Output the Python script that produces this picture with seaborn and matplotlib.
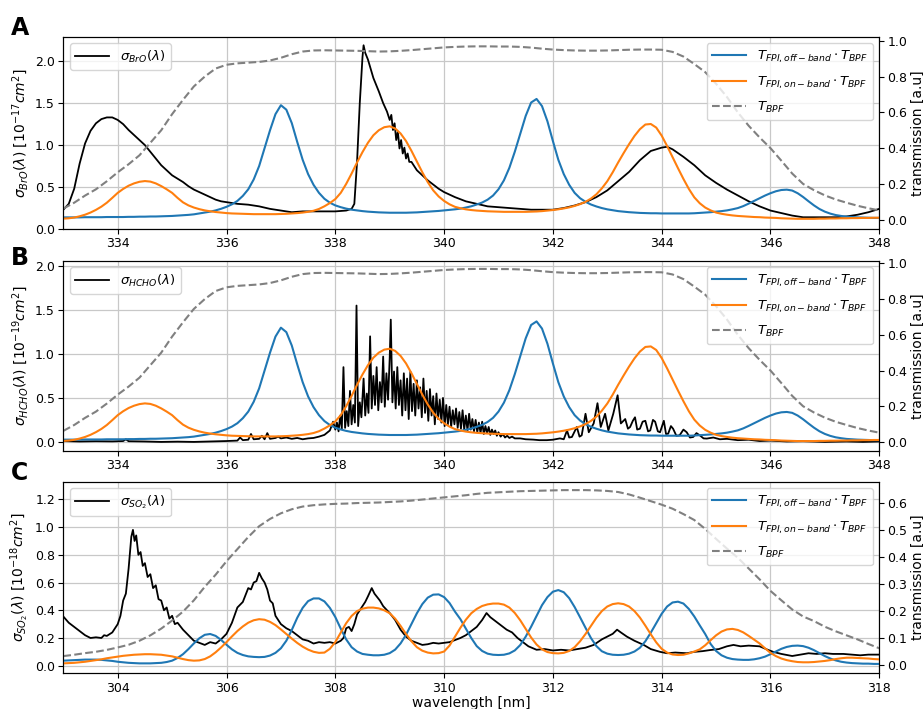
import numpy as np
import matplotlib
matplotlib.use("Agg")
import matplotlib.pyplot as plt
import seaborn as sns

# ---------------------------------------------------------------------------
# Filter transmissions, panels A and B (same filters), right axis, 333-348 nm
# ---------------------------------------------------------------------------
wl_bpf_ab = np.linspace(333.0, 348.0, 76)      # 0.2 nm sampling
wl_fpi_ab = np.linspace(333.0, 348.0, 151)     # 0.1 nm sampling

t_bpf_ab = [
    0.062, 0.095, 0.135, 0.170, 0.215, 0.265, 0.310, 0.360, 0.430, 0.500,
    0.590, 0.670, 0.745, 0.800, 0.845, 0.866, 0.874, 0.878, 0.882, 0.890,
    0.905, 0.925, 0.940, 0.946, 0.947, 0.946, 0.945, 0.944, 0.942, 0.940,
    0.941, 0.944, 0.948, 0.953, 0.958, 0.963, 0.966, 0.968, 0.969, 0.969,
    0.968, 0.968, 0.966, 0.962, 0.956, 0.951, 0.948, 0.946, 0.945, 0.945,
    0.946, 0.948, 0.950, 0.951, 0.951, 0.950, 0.938, 0.912, 0.870, 0.825,
    0.760, 0.686, 0.600, 0.525, 0.460, 0.400, 0.330, 0.258, 0.200, 0.165,
    0.136, 0.113, 0.095, 0.078, 0.064, 0.052,
]

t_off_ab = [
    0.013, 0.013, 0.013, 0.013, 0.014, 0.014, 0.014, 0.014, 0.015, 0.015,
    0.015, 0.015, 0.016, 0.016, 0.017, 0.017, 0.018, 0.018, 0.019, 0.020,
    0.021, 0.023, 0.025, 0.027, 0.030, 0.035, 0.040, 0.045, 0.052, 0.061,
    0.072, 0.086, 0.105, 0.133, 0.170, 0.225, 0.300, 0.400, 0.500, 0.590,
    0.640, 0.615, 0.540, 0.435, 0.335, 0.255, 0.195, 0.150, 0.117, 0.095,
    0.080, 0.070, 0.062, 0.056, 0.052, 0.048, 0.045, 0.043, 0.041, 0.040,
    0.039, 0.039, 0.039, 0.039, 0.040, 0.041, 0.043, 0.045, 0.047, 0.049,
    0.052, 0.055, 0.058, 0.062, 0.068, 0.075, 0.085, 0.096, 0.112, 0.135,
    0.170, 0.220, 0.290, 0.380, 0.480, 0.580, 0.655, 0.675, 0.635, 0.550,
    0.440, 0.335, 0.255, 0.195, 0.150, 0.120, 0.100, 0.085, 0.074, 0.065,
    0.058, 0.053, 0.048, 0.045, 0.042, 0.040, 0.038, 0.037, 0.036, 0.036,
    0.035, 0.035, 0.035, 0.035, 0.035, 0.035, 0.036, 0.038, 0.040, 0.042,
    0.045, 0.048, 0.052, 0.058, 0.065, 0.076, 0.090, 0.105, 0.120, 0.135,
    0.148, 0.159, 0.166, 0.168, 0.163, 0.148, 0.127, 0.103, 0.080, 0.060,
    0.045, 0.034, 0.026, 0.021, 0.017, 0.015, 0.013, 0.012, 0.011, 0.010,
    0.010,
]

t_on_ab = [
    0.006, 0.008, 0.012, 0.019, 0.028, 0.040, 0.055, 0.073, 0.095, 0.122,
    0.150, 0.172, 0.190, 0.203, 0.212, 0.216, 0.213, 0.203, 0.188, 0.170,
    0.150, 0.122, 0.097, 0.080, 0.068, 0.059, 0.052, 0.047, 0.043, 0.040,
    0.037, 0.035, 0.034, 0.033, 0.032, 0.031, 0.031, 0.031, 0.031, 0.031,
    0.032, 0.033, 0.035, 0.037, 0.040, 0.044, 0.050, 0.060, 0.075, 0.093,
    0.115, 0.150, 0.200, 0.258, 0.320, 0.378, 0.430, 0.472, 0.500, 0.517,
    0.522, 0.510, 0.482, 0.440, 0.385, 0.325, 0.265, 0.210, 0.164, 0.130,
    0.105, 0.086, 0.072, 0.064, 0.058, 0.054, 0.051, 0.049, 0.047, 0.046,
    0.045, 0.044, 0.044, 0.044, 0.044, 0.044, 0.045, 0.046, 0.048, 0.051,
    0.054, 0.058, 0.063, 0.069, 0.077, 0.087, 0.100, 0.118, 0.142, 0.175,
    0.215, 0.265, 0.320, 0.372, 0.422, 0.468, 0.506, 0.532, 0.535, 0.515,
    0.470, 0.412, 0.350, 0.288, 0.228, 0.172, 0.125, 0.092, 0.068, 0.052,
    0.040, 0.033, 0.028, 0.024, 0.021, 0.019, 0.017, 0.015, 0.014, 0.012,
    0.011, 0.010, 0.008, 0.007, 0.006, 0.005, 0.005, 0.005, 0.005, 0.006,
    0.006, 0.007, 0.007, 0.008, 0.008, 0.009, 0.009, 0.010, 0.010, 0.011,
    0.011,
]

# ---------------------------------------------------------------------------
# Filter transmissions, panel C, right axis, 303-318 nm
# ---------------------------------------------------------------------------
wl_bpf_c = np.linspace(303.0, 318.0, 76)
wl_fpi_c = np.linspace(303.0, 318.0, 151)

t_bpf_c = [
    0.033, 0.038, 0.044, 0.049, 0.056, 0.065, 0.075, 0.090, 0.110, 0.135,
    0.165, 0.198, 0.240, 0.290, 0.335, 0.385, 0.430, 0.475, 0.515, 0.542,
    0.563, 0.578, 0.588, 0.593, 0.596, 0.598, 0.599, 0.601, 0.602, 0.603,
    0.605, 0.607, 0.610, 0.614, 0.618, 0.622, 0.626, 0.630, 0.635, 0.639,
    0.641, 0.643, 0.645, 0.646, 0.647, 0.648, 0.649, 0.649, 0.649, 0.648,
    0.646, 0.642, 0.633, 0.621, 0.608, 0.595, 0.580, 0.560, 0.538, 0.505,
    0.468, 0.432, 0.398, 0.358, 0.318, 0.275, 0.240, 0.206, 0.180, 0.163,
    0.142, 0.125, 0.110, 0.095, 0.078, 0.062,
]

t_off_c = [
    0.016, 0.017, 0.018, 0.019, 0.020, 0.020, 0.020, 0.019, 0.017, 0.015,
    0.012, 0.010, 0.008, 0.007, 0.006, 0.006, 0.006, 0.007, 0.008, 0.011,
    0.016, 0.026, 0.040, 0.059, 0.080, 0.099, 0.112, 0.115, 0.108, 0.093,
    0.075, 0.058, 0.045, 0.037, 0.032, 0.030, 0.029, 0.030, 0.035, 0.045,
    0.062, 0.090, 0.130, 0.175, 0.212, 0.237, 0.247, 0.247, 0.236, 0.212,
    0.178, 0.135, 0.095, 0.066, 0.050, 0.041, 0.038, 0.036, 0.036, 0.038,
    0.044, 0.057, 0.080, 0.112, 0.152, 0.192, 0.226, 0.250, 0.261, 0.262,
    0.252, 0.230, 0.198, 0.170, 0.135, 0.100, 0.070, 0.052, 0.042, 0.038,
    0.037, 0.038, 0.043, 0.054, 0.074, 0.105, 0.142, 0.182, 0.222, 0.252,
    0.272, 0.278, 0.270, 0.248, 0.215, 0.177, 0.138, 0.100, 0.070, 0.051,
    0.042, 0.038, 0.037, 0.038, 0.042, 0.050, 0.064, 0.088, 0.120, 0.155,
    0.190, 0.217, 0.232, 0.235, 0.228, 0.208, 0.180, 0.147, 0.115, 0.078,
    0.052, 0.036, 0.027, 0.022, 0.020, 0.019, 0.019, 0.021, 0.025, 0.031,
    0.040, 0.050, 0.060, 0.067, 0.071, 0.072, 0.070, 0.064, 0.055, 0.044,
    0.033, 0.024, 0.017, 0.012, 0.009, 0.007, 0.006, 0.005, 0.005, 0.004,
    0.004,
]

t_on_c = [
    0.006, 0.007, 0.008, 0.010, 0.012, 0.015, 0.018, 0.021, 0.025, 0.028,
    0.031, 0.034, 0.036, 0.038, 0.039, 0.040, 0.040, 0.039, 0.038, 0.035,
    0.032, 0.027, 0.022, 0.018, 0.016, 0.017, 0.022, 0.032, 0.047, 0.065,
    0.085, 0.106, 0.126, 0.143, 0.157, 0.166, 0.170, 0.168, 0.160, 0.148,
    0.132, 0.115, 0.098, 0.082, 0.068, 0.057, 0.049, 0.045, 0.046, 0.060,
    0.085, 0.120, 0.155, 0.182, 0.200, 0.209, 0.213, 0.213, 0.210, 0.203,
    0.192, 0.172, 0.145, 0.115, 0.088, 0.066, 0.053, 0.046, 0.043, 0.044,
    0.050, 0.072, 0.105, 0.138, 0.168, 0.192, 0.208, 0.219, 0.225, 0.228,
    0.228, 0.224, 0.213, 0.193, 0.166, 0.134, 0.102, 0.076, 0.058, 0.048,
    0.044, 0.043, 0.045, 0.052, 0.066, 0.088, 0.115, 0.145, 0.175, 0.200,
    0.217, 0.226, 0.229, 0.226, 0.217, 0.200, 0.176, 0.146, 0.114, 0.084,
    0.060, 0.046, 0.039, 0.037, 0.038, 0.043, 0.050, 0.058, 0.073, 0.092,
    0.110, 0.124, 0.132, 0.134, 0.130, 0.121, 0.108, 0.094, 0.080, 0.062,
    0.045, 0.033, 0.024, 0.018, 0.014, 0.011, 0.010, 0.010, 0.011, 0.013,
    0.015, 0.018, 0.022, 0.025, 0.027, 0.027, 0.026, 0.025, 0.024, 0.022,
    0.021,
]

# ---------------------------------------------------------------------------
# Absorption cross sections (left axes)
# ---------------------------------------------------------------------------
bro_wl = [
    333.00, 333.10, 333.20, 333.30, 333.40, 333.50, 333.60, 333.70, 333.80, 333.90,
    334.00, 334.10, 334.20, 334.30, 334.40, 334.50, 334.60, 334.70, 334.80, 334.90,
    335.00, 335.10, 335.20, 335.30, 335.40, 335.50, 335.60, 335.70, 335.80, 335.90,
    336.00, 336.20, 336.40, 336.60, 336.80, 337.00, 337.10, 337.20, 337.40, 337.60,
    337.80, 338.00, 338.20, 338.30, 338.35, 338.40, 338.45, 338.50, 338.52, 338.55,
    338.60, 338.70, 338.80, 338.88, 338.95, 339.00, 339.03, 339.06, 339.09, 339.12,
    339.15, 339.18, 339.21, 339.24, 339.27, 339.30, 339.33, 339.36, 339.40, 339.50,
    339.60, 339.70, 339.80, 339.90, 340.00, 340.20, 340.40, 340.60, 340.80, 341.00,
    341.20, 341.40, 341.60, 341.80, 342.00, 342.20, 342.40, 342.60, 342.80, 343.00,
    343.20, 343.40, 343.60, 343.80, 344.00, 344.10, 344.20, 344.40, 344.60, 344.80,
    345.00, 345.20, 345.40, 345.60, 345.80, 346.00, 346.20, 346.40, 346.60, 346.80,
    347.00, 347.20, 347.40, 347.60, 347.80, 348.00,
]
bro_sigma = [
    0.23, 0.30, 0.48, 0.78, 1.02, 1.17, 1.26, 1.31, 1.33, 1.33,
    1.30, 1.25, 1.18, 1.12, 1.06, 1.00, 0.92, 0.84, 0.76, 0.70,
    0.64, 0.60, 0.56, 0.51, 0.47, 0.44, 0.41, 0.38, 0.35, 0.33,
    0.32, 0.30, 0.29, 0.27, 0.24, 0.22, 0.21, 0.20, 0.21, 0.21,
    0.21, 0.21, 0.22, 0.24, 0.30, 0.80, 1.50, 2.05, 2.19, 2.10,
    2.02, 1.80, 1.64, 1.50, 1.40, 1.30, 1.36, 1.18, 1.26, 1.06,
    1.16, 0.96, 1.06, 0.90, 0.97, 0.84, 0.90, 0.80, 0.80, 0.70,
    0.64, 0.58, 0.53, 0.48, 0.44, 0.38, 0.33, 0.30, 0.27, 0.26,
    0.25, 0.24, 0.23, 0.23, 0.23, 0.25, 0.28, 0.32, 0.38, 0.46,
    0.57, 0.68, 0.82, 0.93, 0.97, 0.98, 0.95, 0.86, 0.76, 0.64,
    0.55, 0.47, 0.40, 0.33, 0.27, 0.22, 0.19, 0.16, 0.14, 0.14,
    0.14, 0.14, 0.15, 0.17, 0.20, 0.24,
]

hcho_wl = [
    333.00, 333.30, 333.60, 333.90, 334.10, 334.15, 334.20, 334.50, 334.80, 335.10,
    335.40, 335.70, 336.00, 336.20, 336.25, 336.30, 336.40, 336.45, 336.50, 336.60,
    336.65, 336.70, 336.75, 336.80, 336.90, 336.95, 337.00, 337.10, 337.20, 337.30,
    337.40, 337.50, 337.60, 337.70, 337.80, 337.90, 337.96,
    338.00, 338.03, 338.06, 338.09, 338.12, 338.15, 338.18, 338.21, 338.24, 338.27,
    338.30, 338.33, 338.36, 338.39, 338.42, 338.45, 338.48, 338.52, 338.55, 338.58,
    338.61, 338.64, 338.67, 338.70, 338.73, 338.76, 338.79, 338.82, 338.85, 338.88,
    338.91, 338.94, 338.97, 339.00, 339.02, 339.05, 339.08, 339.11, 339.14, 339.17,
    339.20, 339.23, 339.26, 339.29, 339.32, 339.35, 339.38, 339.41, 339.44, 339.47,
    339.50, 339.53, 339.56, 339.59, 339.62, 339.65, 339.68, 339.71, 339.74, 339.77,
    339.80, 339.83, 339.86, 339.89, 339.92, 339.95, 339.98, 340.01, 340.04, 340.07,
    340.10, 340.13, 340.16, 340.19, 340.22, 340.25, 340.28, 340.31, 340.34, 340.37,
    340.40, 340.43, 340.46, 340.49, 340.52, 340.55, 340.58, 340.61, 340.64, 340.67,
    340.70, 340.73, 340.76, 340.79, 340.82, 340.85, 340.88, 340.91, 340.94, 340.97,
    341.00, 341.04, 341.08, 341.12, 341.16, 341.20, 341.25, 341.30,
    341.40, 341.50, 341.64, 341.75, 341.89, 342.00, 342.13, 342.20,
    342.26, 342.30, 342.35, 342.44, 342.49, 342.53, 342.60, 342.66, 342.75, 342.82,
    342.88, 342.96, 343.02, 343.11, 343.19, 343.25, 343.33, 343.38, 343.42, 343.47,
    343.51, 343.55, 343.60, 343.65, 343.70, 343.75, 343.79, 343.84, 343.88, 343.93,
    343.97, 344.04, 344.08, 344.12, 344.17, 344.21, 344.27, 344.33, 344.40, 344.46,
    344.52, 344.58, 344.64, 344.70, 344.77, 344.83, 344.95, 345.07, 345.20, 345.40,
    345.60, 345.80, 346.00, 346.30, 346.60, 347.00, 347.40, 347.70, 348.00,
]
hcho_sigma = [
    0.010, 0.005, 0.008, 0.006, 0.010, 0.030, 0.008, 0.005, 0.000, 0.003,
    0.000, 0.005, 0.010, 0.015, 0.050, 0.020, 0.025, 0.090, 0.030, 0.035,
    0.070, 0.030, 0.100, 0.035, 0.045, 0.060, 0.040, 0.050, 0.035, 0.045,
    0.030, 0.040, 0.045, 0.060, 0.080, 0.130, 0.230,
    0.140, 0.220, 0.120, 0.300, 0.150, 0.850, 0.160, 0.350, 0.180, 0.580,
    0.200, 0.420, 0.220, 1.550, 0.180, 0.450, 0.280, 0.720, 0.300, 0.550,
    0.330, 1.200, 0.380, 0.750, 0.420, 0.850, 0.360, 0.680, 0.450, 0.970,
    0.400, 0.780, 0.480, 0.950, 1.390, 0.450, 0.800, 0.380, 0.850, 0.420,
    0.700, 0.300, 0.780, 0.360, 0.720, 0.260, 0.800, 0.350, 0.660, 0.300,
    0.700, 0.380, 0.620, 0.280, 0.720, 0.330, 0.580, 0.240, 0.600, 0.300,
    0.520, 0.200, 0.550, 0.260, 0.480, 0.220, 0.500, 0.180, 0.420, 0.200,
    0.400, 0.170, 0.360, 0.200, 0.380, 0.160, 0.340, 0.150, 0.360, 0.140,
    0.300, 0.130, 0.320, 0.140, 0.260, 0.120, 0.250, 0.110, 0.220, 0.100,
    0.230, 0.090, 0.180, 0.100, 0.170, 0.080, 0.140, 0.090, 0.130, 0.070,
    0.110, 0.060, 0.090, 0.050, 0.070, 0.045, 0.060, 0.040,
    0.040, 0.030, 0.026, 0.020, 0.020, 0.025, 0.040, 0.030,
    0.130, 0.050, 0.056, 0.170, 0.060, 0.075, 0.320, 0.110, 0.210, 0.440,
    0.170, 0.320, 0.130, 0.320, 0.530, 0.210, 0.260, 0.150, 0.170, 0.240,
    0.280, 0.140, 0.150, 0.230, 0.240, 0.120, 0.130, 0.250, 0.230, 0.120,
    0.110, 0.240, 0.090, 0.094, 0.180, 0.150, 0.070, 0.075, 0.140, 0.110,
    0.050, 0.056, 0.100, 0.075, 0.040, 0.038, 0.050, 0.030, 0.035, 0.020,
    0.025, 0.010, 0.015, 0.005, 0.008, 0.000, 0.005, 0.000, 0.005,
]

so2_wl = [
    303.00, 303.10, 303.20, 303.30, 303.40, 303.50, 303.60, 303.70, 303.75, 303.80,
    303.90, 304.00, 304.05, 304.10, 304.15, 304.20, 304.25, 304.28, 304.31, 304.34,
    304.38, 304.42, 304.46, 304.50, 304.55, 304.60, 304.65, 304.70, 304.75, 304.80,
    304.85, 304.90, 304.95, 305.00, 305.05, 305.10, 305.20, 305.30, 305.40, 305.50,
    305.60, 305.70, 305.80, 305.90, 306.00, 306.10, 306.20, 306.30, 306.40, 306.45,
    306.50, 306.55, 306.60, 306.65, 306.70, 306.75, 306.80, 306.85, 306.90, 307.00,
    307.10, 307.20, 307.30, 307.40, 307.50, 307.60, 307.70, 307.80, 307.90, 308.00,
    308.10, 308.15, 308.20, 308.25, 308.30, 308.35, 308.40, 308.50, 308.55, 308.60,
    308.67, 308.72, 308.76, 308.82, 308.88, 308.95, 309.00, 309.10, 309.20, 309.30,
    309.40, 309.50, 309.60, 309.70, 309.80, 309.90, 310.00, 310.10, 310.20, 310.30,
    310.40, 310.50, 310.60, 310.70, 310.78, 310.85, 310.95, 311.05, 311.15, 311.25,
    311.35, 311.45, 311.55, 311.70, 311.85, 312.00, 312.15, 312.30, 312.45, 312.60,
    312.75, 312.90, 313.00, 313.10, 313.18, 313.25, 313.36, 313.50, 313.67, 313.80,
    313.97, 314.10, 314.25, 314.46, 314.60, 314.75, 314.89, 315.05, 315.20, 315.32,
    315.45, 315.60, 315.80, 315.95, 316.05, 316.20, 316.40, 316.55, 316.70, 316.85,
    317.00, 317.15, 317.34, 317.50, 317.65, 317.80, 318.00,
]
so2_sigma = [
    0.355, 0.310, 0.280, 0.250, 0.220, 0.200, 0.205, 0.200, 0.220, 0.215,
    0.240, 0.300, 0.360, 0.470, 0.520, 0.700, 0.930, 0.980, 0.900, 0.940,
    0.800, 0.820, 0.720, 0.740, 0.640, 0.660, 0.560, 0.580, 0.480, 0.470,
    0.400, 0.420, 0.340, 0.360, 0.300, 0.310, 0.260, 0.220, 0.180, 0.165,
    0.150, 0.170, 0.160, 0.190, 0.230, 0.310, 0.420, 0.460, 0.560, 0.550,
    0.600, 0.610, 0.670, 0.630, 0.600, 0.550, 0.470, 0.450, 0.360, 0.300,
    0.270, 0.250, 0.220, 0.190, 0.180, 0.160, 0.170, 0.165, 0.170, 0.160,
    0.180, 0.200, 0.270, 0.280, 0.250, 0.300, 0.370, 0.430, 0.460, 0.500,
    0.560, 0.520, 0.500, 0.470, 0.430, 0.400, 0.380, 0.330, 0.260, 0.210,
    0.180, 0.165, 0.150, 0.155, 0.165, 0.160, 0.165, 0.170, 0.185, 0.200,
    0.220, 0.250, 0.280, 0.330, 0.380, 0.350, 0.320, 0.290, 0.260, 0.240,
    0.200, 0.170, 0.140, 0.115, 0.120, 0.110, 0.115, 0.110, 0.120, 0.130,
    0.150, 0.190, 0.210, 0.230, 0.260, 0.240, 0.210, 0.180, 0.150, 0.120,
    0.100, 0.090, 0.095, 0.090, 0.100, 0.105, 0.113, 0.120, 0.140, 0.150,
    0.140, 0.145, 0.140, 0.115, 0.100, 0.085, 0.070, 0.080, 0.090, 0.085,
    0.090, 0.085, 0.085, 0.080, 0.075, 0.080, 0.080,
]

# ---------------------------------------------------------------------------
BLUE = "#1f77b4"
ORANGE = "#ff7f0e"
GREY = "#808080"

plt.rcParams["font.family"] = ["DejaVu Sans"]
plt.rcParams["mathtext.fontset"] = "dejavusans"

LBL_OFF = r"$T_{FPI, off-band} \cdot T_{BPF}$"
LBL_ON = r"$T_{FPI, on-band} \cdot T_{BPF}$"
LBL_BPF = r"$T_{BPF}$"


def panel(fig, rect, wl_spec, sigma, spec_label, ylabel, ylim_l,
          wl_fpi, t_off, t_on, wl_bpf, t_bpf, ylim_r, rticks, xlim,
          letter, letter_y, xlabel=None):
    ax = fig.add_axes(rect)
    sns.lineplot(x=wl_spec, y=sigma, ax=ax, color="black", linewidth=1.3,
                 label=spec_label, estimator=None, sort=False)
    ax.set_xlim(*xlim)
    ax.set_ylim(*ylim_l)
    ax.set_xticks(np.arange(xlim[0] + 1, xlim[1] + 0.1, 2))
    ax.grid(True, color="#c8c8c8", linewidth=0.9)
    ax.set_axisbelow(True)
    ax.set_ylabel(ylabel, fontsize=10, labelpad=3)
    ax.tick_params(labelsize=9, pad=2.5)
    ax.legend(loc="upper left", fontsize=9.5, handlelength=2.6)
    if xlabel:
        ax.set_xlabel(xlabel, fontsize=10, labelpad=1)

    ax2 = ax.twinx()
    sns.lineplot(x=wl_fpi, y=t_off, ax=ax2, color=BLUE, linewidth=1.5,
                 label=LBL_OFF, estimator=None)
    sns.lineplot(x=wl_fpi, y=t_on, ax=ax2, color=ORANGE, linewidth=1.5,
                 label=LBL_ON, estimator=None)
    sns.lineplot(x=wl_bpf, y=t_bpf, ax=ax2, color=GREY, linewidth=1.5,
                 linestyle="--", label=LBL_BPF, estimator=None)
    ax2.set_ylim(*ylim_r)
    ax2.set_yticks(rticks)
    ax2.set_ylabel("transmission [a.u]", fontsize=10, labelpad=2)
    ax2.tick_params(labelsize=9, pad=2.5)
    ax2.grid(False)
    ax2.legend(loc="upper right", fontsize=9.5, handlelength=2.6,
               labelspacing=0.7)
    ax2.set_xlim(*xlim)

    fig.text(0.012, letter_y, letter, fontsize=17, fontweight="bold",
             va="baseline", ha="left")
    return ax, ax2


fig = plt.figure(figsize=(9.23, 7.09), dpi=100)
L, W = 0.0686, 0.884
ticks_ab = [0.0, 0.2, 0.4, 0.6, 0.8, 1.0]
ticks_c = [0.0, 0.1, 0.2, 0.3, 0.4, 0.5, 0.6]

panel(fig, [L, 0.677, W, 0.271], bro_wl, bro_sigma,
      r"$\sigma_{BrO}(\lambda)$", r"$\sigma_{BrO}(\lambda)$ $[10^{-17} cm^2]$",
      (0.0, 2.29), wl_fpi_ab, t_off_ab, t_on_ab, wl_bpf_ab, t_bpf_ab,
      (-0.052, 1.022), ticks_ab, (333, 348), "A", 0.951)

panel(fig, [L, 0.3643, W, 0.268], hcho_wl, hcho_sigma,
      r"$\sigma_{HCHO}(\lambda)$", r"$\sigma_{HCHO}(\lambda)$ $[10^{-19} cm^2]$",
      (-0.1, 2.06), wl_fpi_ab, t_off_ab, t_on_ab, wl_bpf_ab, t_bpf_ab,
      (-0.049, 1.015), ticks_ab, (333, 348), "B", 0.626)

panel(fig, [L, 0.0503, W, 0.2702], so2_wl, so2_sigma,
      r"$\sigma_{SO_2}(\lambda)$", r"$\sigma_{SO_2}(\lambda)$ $[10^{-18} cm^2]$",
      (-0.055, 1.327), wl_fpi_c, t_off_c, t_on_c, wl_bpf_c, t_bpf_c,
      (-0.031, 0.68), ticks_c, (303, 318), "C", 0.323,
      xlabel="wavelength [nm]")

fig.savefig("out.png", dpi=100, facecolor="white")
